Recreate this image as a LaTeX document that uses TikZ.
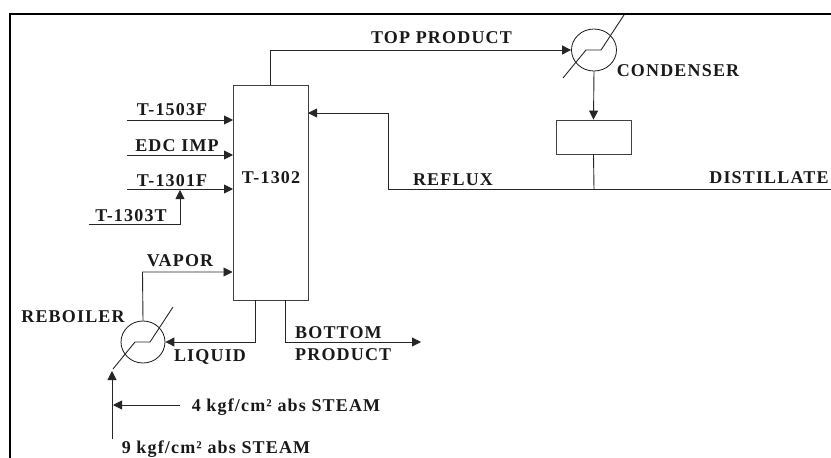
\documentclass[tikz,border=0pt]{standalone}
\usepackage{fontspec}
\setmainfont[LetterSpace=6.5]{Liberation Serif}
\usetikzlibrary{arrows.meta}
\usetikzlibrary{shapes.geometric}
\tikzset{
  x=1pt,y=-1pt,
  lbl/.style={inner sep=0pt,font=\bfseries\fontsize{18}{20}\selectfont,text=black!90},
  pipe/.style={draw=black!85,line width=0.9pt},
  flow/.style={pipe,-{Triangle[length=9pt,width=9pt]}},
  vessel/.style={draw=black!75,line width=0.9pt,inner sep=0pt,minimum width=0pt},
  hx/.style={draw=black!90,line width=0.8pt,ellipse,inner sep=0pt},
  frameline/.style={draw=black,line width=2.6pt}
}
\begin{document}
\begin{tikzpicture}
\useasboundingbox (0,0) rectangle (831,458);
\fill[white] (0,0) rectangle (831,458);
\coordinate (fa) at (10,458);
\coordinate (fb) at (10,14);
\coordinate (fc) at (831,14);
\draw[frameline] (fa) -- (fb) -- (fc);

\node[vessel,draw,minimum width=75pt,minimum height=215pt] (col) at (270.5,192.5) {};
\node[vessel,draw,minimum width=75pt,minimum height=34pt] (drum) at (593.5,137) {};
\node[hx,minimum width=45pt,minimum height=42pt] (cond) at (594,50) {};
\node[hx,minimum width=44pt,minimum height=42pt] (reb) at (143,342) {};

% heat-exchanger tube symbols
\coordinate (c1) at (563,78); \coordinate (c2) at (586,50); \coordinate (c3) at (601,50); \coordinate (c4) at (624,15);
\draw[pipe] (c1) -- (c2) -- (c3) -- (c4);
\coordinate (r1) at (113,369); \coordinate (r2) at (135,342); \coordinate (r3) at (150,342); \coordinate (r4) at (173,307);
\draw[pipe] (r1) -- (r2) -- (r3) -- (r4);

% overhead
\draw[flow] (270,85) -- (270,50) -- (cond.west);
\draw[flow] (cond.south) -- (drum.north);
\coordinate (dj) at (594,189);
\coordinate (dist) at (831,189);
\coordinate (rf) at (388,189);
\draw[pipe] (drum.south) -- (dj);
\draw[pipe] (dist) -- (rf);
\draw[flow] (rf) -- (388,113) -- (308,113);

% feeds
\coordinate (f1) at (127,120); \coordinate (f2) at (127,155); \coordinate (f3) at (127,189);
\draw[flow] (f1) -- (233,120);
\draw[flow] (f2) -- (233,155);
\draw[flow] (f3) -- (233,189);
\coordinate (f4) at (89,224);
\draw[flow] (f4) -- (180,224) -- (180,190);

% bottom
\draw[flow] (reb.north) -- (142.5,272) -- (232.5,272);
\draw[flow] (255,300) -- (255,342) -- (reb.east);
\coordinate (bp) at (421,342);
\draw[flow] (285,300) -- (285,342) -- (bp);
\coordinate (s9) at (112,439);
\coordinate (s9e) at (112,371);
\draw[flow] (s9) -- (s9e);
\coordinate (s4) at (180,405);
\coordinate (s4e) at (113,405);
\draw[flow] (s4) -- (s4e);

% labels
\node[lbl] (l1) at (441.5,38) {TOP PRODUCT};
\node[lbl] (l2) at (678,71) {CONDENSER};
\node[lbl] (l3) at (172,110) {T-1503F};
\node[lbl] (l4) at (177,146) {EDC IMP};
\node[lbl] (l5) at (172,181) {T-1301F};
\node[lbl] (l6) at (131,216) {T-1303T};
\node[lbl] (l7) at (271,178) {T-1302};
\node[lbl] (l8) at (453,180) {REFLUX};
\node[lbl] (l9) at (769,178) {DISTILLATE};
\node[lbl] (l10) at (180,261) {VAPOR};
\node[lbl] (l11) at (73,317) {REBOILER};
\node[lbl] (l12) at (210,357) {LIQUID};
\node[lbl,anchor=west] (l13) at (295,333) {BOTTOM};
\node[lbl,anchor=west] (l14) at (295,355) {PRODUCT};
\node[lbl] (l15) at (286,407) {4 kgf/cm² abs STEAM};
\node[lbl] (l16) at (216,449) {9 kgf/cm² abs STEAM};
\end{tikzpicture}
\end{document}
